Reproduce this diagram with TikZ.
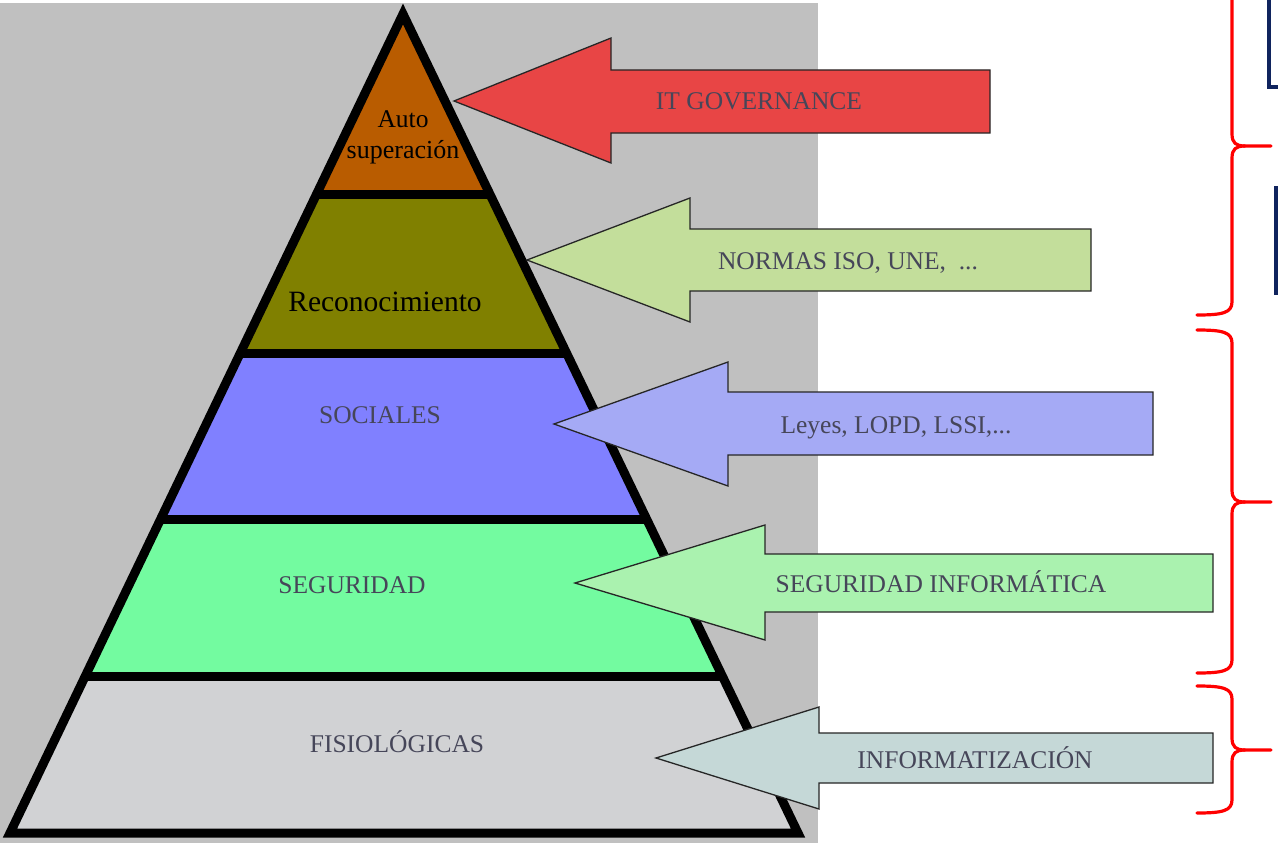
\documentclass[tikz,border=0pt]{standalone}
\usepackage{fontspec}
\setmainfont{Liberation Serif}
\usetikzlibrary{calc}
\definecolor{bgray}{HTML}{C0C0C0}
\definecolor{lay1}{HTML}{B95C00}
\definecolor{lay2}{HTML}{808000}
\definecolor{lay3}{HTML}{8080FF}
\definecolor{lay4}{HTML}{73FBA0}
\definecolor{lay5}{HTML}{D1D2D4}
\definecolor{arr1}{HTML}{E84545}
\definecolor{arr2}{HTML}{C3DE9B}
\definecolor{arr3}{HTML}{A5AAF5}
\definecolor{arr4}{HTML}{AAF2AF}
\definecolor{arr5}{HTML}{C5D8D7}
\definecolor{txtc}{HTML}{464659}
\definecolor{navy}{HTML}{10245E}
\definecolor{bracered}{HTML}{FF0000}
\tikzset{
  edge/.style={line width=9pt, line join=miter, draw=black},
  blockarrow/.style={draw=black!85, line width=1.3pt, line join=miter},
  lbl/.style={inner sep=0pt, anchor=base, text=txtc, font=\fontsize{25.5}{28}\selectfont},
  dlbl/.style={inner sep=0pt, anchor=base, text=black, font=\fontsize{25.5}{28}\selectfont},
  brace/.style={draw=bracered, line width=3.2pt, line cap=round, line join=round},
  navybox/.style={draw=navy, line width=4pt}
}
\begin{document}
\begin{tikzpicture}[x=1pt,y=-1pt]
\useasboundingbox (0,0) rectangle (1278,843);
\clip (0,0) rectangle (1278,843);
\fill[white] (0,0) rectangle (1278,843);
\fill[bgray] (0,3) rectangle (818,843);

% pyramid geometry
\coordinate (A) at (403,14);
\coordinate (BL) at (10,833);
\coordinate (BR) at (798,833);
\coordinate (L1) at ($(A)!0.21978!(BL)$); \coordinate (R1) at ($(A)!0.21978!(BR)$);
\coordinate (L2) at ($(A)!0.41392!(BL)$); \coordinate (R2) at ($(A)!0.41392!(BR)$);
\coordinate (L3) at ($(A)!0.61661!(BL)$); \coordinate (R3) at ($(A)!0.61661!(BR)$);
\coordinate (L4) at ($(A)!0.80830!(BL)$); \coordinate (R4) at ($(A)!0.80830!(BR)$);

\fill[lay1] (A) -- (L1) -- (R1) -- cycle;
\fill[lay2] (L1) -- (L2) -- (R2) -- (R1) -- cycle;
\fill[lay3] (L2) -- (L3) -- (R3) -- (R2) -- cycle;
\fill[lay4] (L3) -- (L4) -- (R4) -- (R3) -- cycle;
\fill[lay5] (L4) -- (BL) -- (BR) -- (R4) -- cycle;

\draw[edge] (L1) -- (R1);
\draw[edge] (L2) -- (R2);
\draw[edge] (L3) -- (R3);
\draw[edge] (L4) -- (R4);
\draw[edge] (A) -- (BL) -- (BR) -- cycle;

% pyramid labels
\node[dlbl] (auto) at (403,128) {Auto};
\node[dlbl, font=\fontsize{26}{28}\selectfont] (super) at (403,158) {superación};
\node[dlbl, font=\fontsize{29.5}{31}\selectfont] (recon) at (385,311) {Reconocimiento};
\node[lbl] (soc) at (380,423) {SOCIALES};
\node[lbl] (seg) at (352,593) {SEGURIDAD};
\node[lbl] (fis) at (397,752) {FISIOLÓGICAS};

% block arrows
\fill[arr1, blockarrow] (454,101) -- (611,38) -- (611,70) -- (990,70) -- (990,133) -- (611,133) -- (611,163) -- cycle;
\fill[arr2, blockarrow] (527,260) -- (690,198) -- (690,229) -- (1091,229) -- (1091,291) -- (690,291) -- (690,322) -- cycle;
\fill[arr3, blockarrow] (554,424) -- (728,362) -- (728,392) -- (1153,392) -- (1153,455) -- (728,455) -- (728,486) -- cycle;
\fill[arr4, blockarrow] (575,583) -- (765,525) -- (765,554) -- (1213,554) -- (1213,612) -- (765,612) -- (765,640) -- cycle;
\fill[arr5, blockarrow] (656,758) -- (819,707) -- (819,733) -- (1213,733) -- (1213,783) -- (819,783) -- (819,809) -- cycle;

\node[lbl] (itg) at (759,110) {IT GOVERNANCE};
\node[lbl] (norm) at (848,269) {NORMAS ISO, UNE,~ ...};
\node[lbl] (leyes) at (896,433) {Leyes, LOPD, LSSI,...};
\node[lbl] (seginf) at (941,592) {SEGURIDAD INFORMÁTICA};
\node[lbl] (infz) at (975,768) {INFORMATIZACIÓN};

% red braces
\draw[brace] (1232,-10) -- (1232,134) .. controls (1232,143) and (1236,146) .. (1245,146) -- (1271,146);
\draw[brace] (1245,146) .. controls (1236,146) and (1232,149) .. (1232,158) -- (1232,302) .. controls (1232,313) and (1222,315) .. (1197,315);
\draw[brace] (1197,330) .. controls (1222,330) and (1232,332) .. (1232,343) -- (1232,490) .. controls (1232,499) and (1236,502) .. (1245,502) -- (1271,502);
\draw[brace] (1245,502) .. controls (1236,502) and (1232,505) .. (1232,514) -- (1232,660) .. controls (1232,671) and (1222,673) .. (1197,673);
\draw[brace] (1197,686) .. controls (1222,686) and (1232,688) .. (1232,699) -- (1232,738) .. controls (1232,747) and (1236,750) .. (1245,750) -- (1271,750);
\draw[brace] (1245,750) .. controls (1236,750) and (1232,753) .. (1232,762) -- (1232,800) .. controls (1232,811) and (1222,813) .. (1197,813);

% partial navy boxes at the right edge
\draw[navybox] (1269,-10) -- (1269,87) -- (1300,87);
\draw[navybox] (1300,188) -- (1276,188) -- (1276,293) -- (1300,293);
\end{tikzpicture}
\end{document}
